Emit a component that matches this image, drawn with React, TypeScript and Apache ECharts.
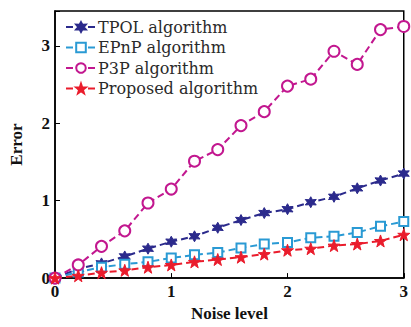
import React, { useEffect, useRef } from "react";
import * as echarts from "echarts";

const noise = [0, 0.2, 0.4, 0.6, 0.8, 1.0, 1.2, 1.4, 1.6, 1.8, 2.0, 2.2, 2.4, 2.6, 2.8, 3.0];
const tpol = [0, 0.12, 0.19, 0.28, 0.38, 0.47, 0.54, 0.65, 0.75, 0.84, 0.89, 0.98, 1.05, 1.16, 1.26, 1.35];
const epnp = [0, 0.08, 0.14, 0.18, 0.21, 0.26, 0.3, 0.33, 0.39, 0.44, 0.46, 0.52, 0.54, 0.59, 0.67, 0.73];
const p3p = [0, 0.17, 0.41, 0.61, 0.97, 1.15, 1.51, 1.66, 1.97, 2.15, 2.48, 2.57, 2.93, 2.76, 3.21, 3.25];
const proposed = [0, 0.03, 0.07, 0.1, 0.14, 0.17, 0.21, 0.24, 0.27, 0.31, 0.36, 0.38, 0.42, 0.44, 0.48, 0.56];
const seriesNames = ["TPOL algorithm", "EPnP algorithm", "P3P algorithm", "Proposed algorithm"];

const star6 =
  "path://M0,-10 L2.6,-4.5 L8.66,-5 L5.2,0 L8.66,5 L2.6,4.5 L0,10 L-2.6,4.5 L-8.66,5 L-5.2,0 L-8.66,-5 L-2.6,-4.5 Z";
const star5 =
  "path://M0,-10 L2.35,-3.24 L9.51,-3.09 L3.8,1.24 L5.88,8.09 L0,4 L-5.88,8.09 L-3.8,1.24 L-9.51,-3.09 L-2.35,-3.24 Z";

export default function App() {
  const ref = useRef<HTMLDivElement>(null);
  useEffect(() => {
    const chart = echarts.init(ref.current!, null, { renderer: "svg" });
    const font = "'Liberation Serif', serif";
    const legendFont = "'DejaVu Serif', serif";
    const mk = (name: string, data: number[], color: string, symbol: string, size: number, filled: boolean) => ({
      name,
      type: "line",
      data: noise.map((x, i) => [x, data[i]]),
      symbol,
      symbolSize: size,
      showAllSymbol: true,
      lineStyle: { color, width: 2, type: [7, 4] },
      itemStyle: filled
        ? { color, borderColor: color, borderWidth: 1 }
        : { color: "#fff", borderColor: color, borderWidth: 2 },
      color,
      z: 3,
    });
    chart.setOption({
      animation: false,
      backgroundColor: "#fff",
      textStyle: { fontFamily: font },
      grid: {
        left: 49,
        right: 6,
        top: 11,
        bottom: 48,
        show: true,
        borderColor: "#000",
        borderWidth: 1.5,
      },
      legend: {
        orient: "vertical",
        left: 60,
        top: 14,
        itemWidth: 30,
        itemHeight: 12,
        itemGap: 4.5,
        data: seriesNames,
        textStyle: { fontFamily: legendFont, fontSize: 16, color: "#2a2a2a", padding: [0, 0, 0, -3] },
      },
      xAxis: {
        type: "value",
        min: 0,
        max: 3,
        interval: 1,
        name: "Noise level",
        nameLocation: "middle",
        nameGap: 24,
        nameTextStyle: { fontFamily: font, fontSize: 17, fontWeight: "bold", color: "#111" },
        axisLine: { lineStyle: { color: "#000", width: 1.5 } },
        axisTick: { inside: true, length: 5, lineStyle: { color: "#000" } },
        axisLabel: { fontFamily: font, fontSize: 17, fontWeight: "bold", color: "#111", margin: 5 },
        splitLine: { show: false },
      },
      yAxis: {
        type: "value",
        min: 0,
        max: 3.45,
        interval: 1,
        name: "Error",
        nameLocation: "middle",
        nameGap: 30,
        nameTextStyle: { fontFamily: font, fontSize: 17, fontWeight: "bold", color: "#111" },
        axisLine: { show: true, lineStyle: { color: "#000", width: 1.5 } },
        axisTick: { show: true, inside: true, length: 5, lineStyle: { color: "#000" } },
        axisLabel: {
          fontFamily: font,
          fontSize: 17,
          fontWeight: "bold",
          color: "#111",
          margin: 5,
          formatter: (v: number) => (Number.isInteger(v) ? String(v) : ""),
        },
        splitLine: { show: false },
      },
      series: [
        mk(seriesNames[0], tpol, "#2b2a8c", star6, 11, true),
        mk(seriesNames[1], epnp, "#2a9ad4", "rect", 9, false),
        mk(seriesNames[2], p3p, "#c2178f", "circle", 11, false),
        mk(seriesNames[3], proposed, "#ea1c2c", star5, 12, true),
      ],
    });
    return () => chart.dispose();
  }, []);
  return <div ref={ref} style={{ width: 411, height: 327, position: "absolute", left: 0, top: 0 }} />;
}
